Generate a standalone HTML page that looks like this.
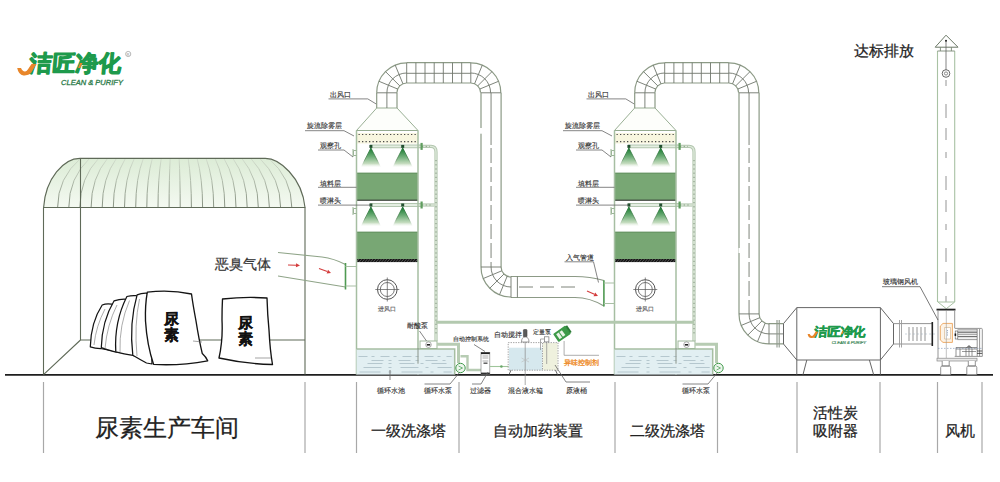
<!DOCTYPE html><html><head><meta charset="utf-8"><style>
html,body{margin:0;padding:0;background:#fff;width:1000px;height:482px;overflow:hidden}
svg{display:block}
text{font-family:"Liberation Sans",sans-serif}
</style></head><body>
<svg width="1000" height="482" viewBox="0 0 1000 482">
<defs>
<linearGradient id="roofg" x1="0" y1="0" x2="0" y2="1">
<stop offset="0" stop-color="#dcecd6"/><stop offset="1" stop-color="#f4f9f1"/></linearGradient>
<linearGradient id="cone" x1="0" y1="0" x2="0" y2="1">
<stop offset="0" stop-color="#13782c"/><stop offset="0.45" stop-color="#6fae78"/><stop offset="0.8" stop-color="#c5dcbf"/><stop offset="1" stop-color="#ffffff" stop-opacity="0.3"/></linearGradient>
<linearGradient id="conee" x1="0" y1="0" x2="0" y2="1">
<stop offset="0" stop-color="#106a26"/><stop offset="0.6" stop-color="#5d8a5e"/><stop offset="1" stop-color="#ffffff" stop-opacity="0"/></linearGradient>
<linearGradient id="ribg" gradientUnits="userSpaceOnUse" x1="0" y1="158" x2="0" y2="207">
<stop offset="0" stop-color="#d2dccd"/><stop offset="1" stop-color="#7b8675"/></linearGradient>
<clipPath id="roofclip"><path d="M43.6,207.5 C45.5,178 64,158.4 80,158.4 L265.3,158.4 C279,158.4 302,177 305,207.5 Z"/></clipPath>
<pattern id="hatch" width="2.8" height="4" patternUnits="userSpaceOnUse" patternTransform="skewX(-40)">
<rect width="2.8" height="4" fill="#555"/><rect width="1.9" height="4" fill="#151515"/></pattern>
</defs>

<g transform="translate(17,51) scale(1.0)">
<text x="13.8" y="19.8" font-size="22.5" font-weight="900" fill="#1e9a4c" stroke="#1e9a4c" stroke-width="1.3" stroke-linejoin="round" textLength="92" lengthAdjust="spacingAndGlyphs" transform="skewX(-5)">洁匠净化</text>
<path d="M14.5,13 L19.5,13 L14,22 Q11.5,24.8 6.5,24.4 Q1.5,23.8 0.2,17 L4,17 Q5.5,20.6 8.2,20.4 Q10,20.2 11,18.2 Z" fill="#e8862a"/>
<path d="M63,12 L65.5,12 L63.5,17 L61,17 Z" fill="#e8862a"/>
<text x="44" y="34.3" font-size="7.2" font-style="italic" fill="#2f7d4c" stroke="#2f7d4c" stroke-width="0.3" textLength="62" lengthAdjust="spacingAndGlyphs">CLEAN &amp; PURIFY</text>
</g>
<circle cx="128.2" cy="54" r="2.6" fill="none" stroke="#999" stroke-width="0.7"/><text x="126.8" y="55.6" font-size="3.6" fill="#888">R</text>
<line x1="5" y1="374.85" x2="993" y2="374.85" stroke="#1e1e1e" stroke-width="1.7"/>
<line x1="43.5" y1="382" x2="43.5" y2="453" stroke="#a8a8a8" stroke-width="1.2"/>
<line x1="305" y1="382" x2="305" y2="453" stroke="#a8a8a8" stroke-width="1.2"/>
<line x1="356.5" y1="382" x2="356.5" y2="453" stroke="#a8a8a8" stroke-width="1.2"/>
<line x1="459" y1="382" x2="459" y2="453" stroke="#a8a8a8" stroke-width="1.2"/>
<line x1="615" y1="382" x2="615" y2="453" stroke="#a8a8a8" stroke-width="1.2"/>
<line x1="717.5" y1="382" x2="717.5" y2="453" stroke="#a8a8a8" stroke-width="1.2"/>
<line x1="797" y1="382" x2="797" y2="453" stroke="#a8a8a8" stroke-width="1.2"/>
<line x1="880" y1="382" x2="880" y2="453" stroke="#a8a8a8" stroke-width="1.2"/>
<line x1="937.5" y1="382" x2="937.5" y2="453" stroke="#a8a8a8" stroke-width="1.2"/>
<line x1="982" y1="382" x2="982" y2="453" stroke="#a8a8a8" stroke-width="1.2"/>
<text x="95.3" y="435.6" font-size="24" fill="#222" text-anchor="start" stroke="#222" stroke-width="0.25">尿素生产车间</text>
<text x="371.2" y="436.2" font-size="14.6" fill="#222" text-anchor="start" stroke="#222" stroke-width="0.25">一级洗涤塔</text>
<text x="492.6" y="436.2" font-size="14.6" fill="#222" text-anchor="start" stroke="#222" stroke-width="0.25">自动加药装置</text>
<text x="629.8" y="436.2" font-size="14.6" fill="#222" text-anchor="start" stroke="#222" stroke-width="0.25">二级洗涤塔</text>
<text x="812.6" y="418.3" font-size="14.6" fill="#222" text-anchor="start" stroke="#222" stroke-width="0.25">活性炭</text>
<text x="812.6" y="436.2" font-size="14.6" fill="#222" text-anchor="start" stroke="#222" stroke-width="0.25">吸附器</text>
<text x="945" y="436.2" font-size="14.6" fill="#222" text-anchor="start" stroke="#222" stroke-width="0.25">风机</text>
<text x="853.6" y="56.4" font-size="14.7" fill="#222" text-anchor="start" stroke="#222" stroke-width="0.25">达标排放</text>
<text x="214.6" y="268.6" font-size="14.1" fill="#333" text-anchor="start" stroke="#333" stroke-width="0.2">恶臭气体</text>
<path d="M43.6,207.5 C45.5,178 64,158.4 80,158.4 L265.3,158.4 C279,158.4 302,177 305,207.5 Z" fill="url(#roofg)"/>
<g clip-path="url(#roofclip)">
<path d="M57.6,207.5 Q57.6,178 81.0,158" fill="none" stroke="url(#ribg)" stroke-width="0.9"/>
<path d="M68.8,207.5 Q68.8,178 89.9,158" fill="none" stroke="url(#ribg)" stroke-width="0.9"/>
<path d="M79.9,207.5 Q79.9,178 98.9,158" fill="none" stroke="url(#ribg)" stroke-width="0.9"/>
<path d="M91.1,207.5 Q91.1,178 107.8,158" fill="none" stroke="url(#ribg)" stroke-width="0.9"/>
<path d="M102.2,207.5 Q102.2,178 116.7,158" fill="none" stroke="url(#ribg)" stroke-width="0.9"/>
<path d="M113.3,207.5 Q113.3,178 125.6,158" fill="none" stroke="url(#ribg)" stroke-width="0.9"/>
<path d="M124.5,207.5 Q124.5,178 134.5,158" fill="none" stroke="url(#ribg)" stroke-width="0.9"/>
<path d="M135.7,207.5 Q135.7,178 143.5,158" fill="none" stroke="url(#ribg)" stroke-width="0.9"/>
<path d="M146.8,207.5 Q146.8,178 152.4,158" fill="none" stroke="url(#ribg)" stroke-width="0.9"/>
<path d="M158.0,207.5 Q158.0,178 161.3,158" fill="none" stroke="url(#ribg)" stroke-width="0.9"/>
<path d="M169.1,207.5 Q169.1,178 170.2,158" fill="none" stroke="url(#ribg)" stroke-width="0.9"/>
<path d="M180.2,207.5 Q180.2,178 179.1,158" fill="none" stroke="url(#ribg)" stroke-width="0.9"/>
<path d="M191.4,207.5 Q191.4,178 188.1,158" fill="none" stroke="url(#ribg)" stroke-width="0.9"/>
<path d="M202.6,207.5 Q202.6,178 197.0,158" fill="none" stroke="url(#ribg)" stroke-width="0.9"/>
<path d="M213.7,207.5 Q213.7,178 205.9,158" fill="none" stroke="url(#ribg)" stroke-width="0.9"/>
<path d="M224.8,207.5 Q224.8,178 214.8,158" fill="none" stroke="url(#ribg)" stroke-width="0.9"/>
<path d="M236.0,207.5 Q236.0,178 223.7,158" fill="none" stroke="url(#ribg)" stroke-width="0.9"/>
<path d="M247.2,207.5 Q247.2,178 232.7,158" fill="none" stroke="url(#ribg)" stroke-width="0.9"/>
<path d="M258.3,207.5 Q258.3,178 241.6,158" fill="none" stroke="url(#ribg)" stroke-width="0.9"/>
<path d="M269.4,207.5 Q269.4,178 250.5,158" fill="none" stroke="url(#ribg)" stroke-width="0.9"/>
<path d="M280.6,207.5 Q280.6,178 259.4,158" fill="none" stroke="url(#ribg)" stroke-width="0.9"/>
<path d="M291.8,207.5 Q291.8,178 268.3,158" fill="none" stroke="url(#ribg)" stroke-width="0.9"/>
</g>
<path d="M43.6,207.5 C45.5,178 64,158.4 80,158.4 L265.3,158.4 C279,158.4 302,177 305,207.5 Z" fill="none" stroke="#5f6a58" stroke-width="1.15"/>
<path d="M43.5,207.5 V374.6 M305,207.5 V374.6 M43.5,207.5 H305 M80.5,158.4 V340 H305 M43.5,374.6 L80.5,340" fill="none" stroke="#5f6a58" stroke-width="1.1"/>
<path d="M102.2,305 Q106,303.5 111.6,304.2 Q114,304 116,306 L118,352 L100.5,348.5 Q95,348.5 90.3,346.8 Q91,322 102.2,305 Z" fill="#fff" stroke="#141414" stroke-width="1.25" stroke-linejoin="round" stroke-linecap="round"/>
<path d="M114.1,300.8 Q119,299 124.3,299 Q127,299 129,301 L131,354 L115,351.9 Q108,350 101.3,347.6 Q102,321 114.1,300.8 Z" fill="#fff" stroke="#141414" stroke-width="1.25" stroke-linejoin="round" stroke-linecap="round"/>
<path d="M126.9,296.5 Q131,295.5 135.4,295.7 Q138,295.5 140,298 L142,358 L132.8,355.3 Q124,354 115.8,351.9 Q114,322 126.9,296.5 Z" fill="#fff" stroke="#141414" stroke-width="1.25" stroke-linejoin="round" stroke-linecap="round"/>
<path d="M137.1,294.8 Q141,293.3 145.6,293.1 Q148,293 150,295 L152,364 L146.5,363 Q139,359 132.8,355.3 Q129,323 137.1,294.8 Z" fill="#fff" stroke="#141414" stroke-width="1.25" stroke-linejoin="round" stroke-linecap="round"/>
<path d="M105,309 Q96,326 94,345 M117,305 Q107,325 105,348.5 M129.5,300.5 Q119,325 120,352 M139.5,299 Q134,325 137,356" fill="none" stroke="#888" stroke-width="0.7"/>
<path d="M147.3,292.2 Q170,289.5 191.5,294 Q193,305 196,321 Q199,340 202.3,353.6 Q206,357 207.7,360.8 Q180,366 153.6,364.4 Q147,345 145.5,321 Q145,305 147.3,292.2 Z" fill="#fff" stroke="#141414" stroke-width="1.35" stroke-linejoin="round" stroke-linecap="round"/>
<path d="M222.5,299 Q245,296.5 267,298 Q267.5,315 269,330 Q270,350 272.5,364.5 Q246,364 219,358 Q223,340 222,320 Q222,308 222.5,299 Z" fill="#fff" stroke="#141414" stroke-width="1.35" stroke-linejoin="round" stroke-linecap="round"/>
<path d="M193,341 L202,342 M255,358 L271,358" fill="none" stroke="#666" stroke-width="0.6"/>
<text x="171.5" y="324.2" font-size="14.5" fill="#111" text-anchor="middle" font-weight="bold" stroke="#111" stroke-width="0.25">尿</text>
<text x="171.5" y="339.8" font-size="14.5" fill="#111" text-anchor="middle" font-weight="bold" stroke="#111" stroke-width="0.25">素</text>
<text x="245.5" y="328.2" font-size="14.5" fill="#111" text-anchor="middle" font-weight="bold" stroke="#111" stroke-width="0.25">尿</text>
<text x="245.5" y="344.2" font-size="14.5" fill="#111" text-anchor="middle" font-weight="bold" stroke="#111" stroke-width="0.25">素</text>
<path d="M278,252.5 L322,257 Q334,258.5 345.5,264.5 M278,276 L345.5,287" fill="none" stroke="#8fa488" stroke-width="1.1"/>
<line x1="345.5" y1="263" x2="345.5" y2="289.5" stroke="#4f9a52" stroke-width="1.6"/>
<path d="M345.5,266.5 H356.5 M345.5,286 H356.5" stroke="#a9bfa5" stroke-width="1"/>
<line x1="288" y1="265" x2="296.0" y2="265.3" stroke="#d43c3c" stroke-width="1.1"/>
<path d="M300,265.5 L295.9,267.3 L296.1,263.3 Z" fill="#d43c3c"/>
<line x1="319" y1="268.5" x2="327.3" y2="271.6" stroke="#d43c3c" stroke-width="1.1"/>
<path d="M331,273 L326.6,273.5 L328.0,269.7 Z" fill="#d43c3c"/>
<path d="M356.5,130.5 L376.7,108 L397.0,108 L418.0,130.5 Z" fill="#fdfefb" stroke="#93ab8e" stroke-width="0.95"/>
<rect x="356.5" y="133" width="61.5" height="10.5" fill="#f8f6df"/>
<line x1="358.5" y1="134.5" x2="417.0" y2="134.5" stroke="#4a4a4a" stroke-width="1.2" stroke-dasharray="1.3,2.2"/>
<line x1="358.5" y1="141.7" x2="417.0" y2="141.7" stroke="#4a4a4a" stroke-width="1.2" stroke-dasharray="1.3,2.2"/>
<line x1="356.5" y1="130.5" x2="418.0" y2="130.5" stroke="#93ab8e" stroke-width="0.95"/>
<rect x="370.5" y="145.0" width="50.5" height="2.8" fill="#e4eee2" stroke="#a3bb9f" stroke-width="0.8"/>
<path d="M370.9,148 L360.9,167.5 L380.9,167.5 Z" fill="url(#cone)"/>
<path d="M360.9,167.5 L370.9,148 L380.9,167.5" fill="none" stroke="url(#conee)" stroke-width="0.8"/>
<rect x="369.4" y="144.9" width="3" height="3" fill="#234f30"/>
<path d="M402.7,148 L392.7,167.5 L412.7,167.5 Z" fill="url(#cone)"/>
<path d="M392.7,167.5 L402.7,148 L412.7,167.5" fill="none" stroke="url(#conee)" stroke-width="0.8"/>
<rect x="401.2" y="144.9" width="3" height="3" fill="#234f30"/>
<rect x="370.5" y="203.6" width="50.5" height="2.8" fill="#e4eee2" stroke="#a3bb9f" stroke-width="0.8"/>
<path d="M370.9,207 L360.9,226.5 L380.9,226.5 Z" fill="url(#cone)"/>
<path d="M360.9,226.5 L370.9,207 L380.9,226.5" fill="none" stroke="url(#conee)" stroke-width="0.8"/>
<rect x="369.4" y="203.5" width="3" height="3" fill="#234f30"/>
<path d="M402.7,207 L392.7,226.5 L412.7,226.5 Z" fill="url(#cone)"/>
<path d="M392.7,226.5 L402.7,207 L412.7,226.5" fill="none" stroke="url(#conee)" stroke-width="0.8"/>
<rect x="401.2" y="203.5" width="3" height="3" fill="#234f30"/>
<rect x="356.5" y="172.8" width="61.5" height="27.69999999999999" fill="#78a774"/>
<line x1="356.5" y1="173.20000000000002" x2="418.0" y2="173.20000000000002" stroke="#5e8a5a" stroke-width="0.8"/>
<rect x="356.5" y="231.8" width="61.5" height="27.599999999999966" fill="#78a774"/>
<line x1="356.5" y1="232.20000000000002" x2="418.0" y2="232.20000000000002" stroke="#5e8a5a" stroke-width="0.8"/>
<line x1="356.5" y1="200.2" x2="418.0" y2="200.2" stroke="#2b2b2b" stroke-width="1"/>
<rect x="356.5" y="259" width="61.5" height="3.1" fill="url(#hatch)"/>
<path d="M356.5,130.5 V374.6 M418.0,130.5 V374.6" stroke="#a6bea2" stroke-width="1.5" fill="none"/>
<path d="M356.5,150.5 H353.5 V155.5 H356.5 M353.0,149 V157" stroke="#9bb497" stroke-width="1" fill="none"/>
<path d="M356.5,208.5 H353.5 V213.5 H356.5 M353.0,207 V215" stroke="#9bb497" stroke-width="1" fill="none"/>
<circle cx="387.3" cy="289.5" r="9.8" fill="none" stroke="#555" stroke-width="1"/>
<circle cx="387.3" cy="289.5" r="7" fill="none" stroke="#555" stroke-width="0.8"/>
<path d="M375.3,289.5 H399.3 M387.3,277.5 V301.5" stroke="#555" stroke-width="0.7"/>
<text x="387.3" y="310.8" font-size="6.2" fill="#555" stroke="#555" stroke-width="0.12" text-anchor="middle">进风口</text>
<path d="M419.0,146.4 H431.0 Q436.0,146.4 436.0,152 V341" fill="none" stroke="#b3c7af" stroke-width="3.2"/>
<path d="M419.0,146.4 H431.0 Q436.0,146.4 436.0,152 V341" fill="none" stroke="#dde8da" stroke-width="1.4"/>
<path d="M419.0,205 H434.4" fill="none" stroke="#b3c7af" stroke-width="3.2"/>
<path d="M419.0,205 H434.4" fill="none" stroke="#dde8da" stroke-width="1.4"/>
<path d="M436.0,160 V335" fill="none" stroke="#7d907a" stroke-width="1" stroke-dasharray="1.2,3"/>
<path d="M422.0,146.4 H430.0 M422.0,205 H433.0" fill="none" stroke="#6d8a68" stroke-width="0.8" stroke-dasharray="1.2,2.5"/>
<rect x="420.5" y="142.9" width="2.2" height="7" fill="#5f9d5e"/>
<rect x="420.5" y="201.5" width="2.2" height="7" fill="#5f9d5e"/>
<rect x="356.5" y="349" width="98.19999999999999" height="25.6" fill="#e2eff2"/>
<line x1="358.5" y1="356.5" x2="451.7" y2="356.5" stroke="#a9bcc4" stroke-width="0.8" stroke-dasharray="9,4,3,6"/>
<line x1="371.5" y1="360.5" x2="451.7" y2="360.5" stroke="#a9bcc4" stroke-width="0.8" stroke-dasharray="12,5,3,7"/>
<line x1="367.5" y1="363.5" x2="451.7" y2="363.5" stroke="#a9bcc4" stroke-width="0.8" stroke-dasharray="15,6,3,8"/>
<line x1="363.5" y1="367.5" x2="451.7" y2="367.5" stroke="#a9bcc4" stroke-width="0.8" stroke-dasharray="18,7,3,9"/>
<line x1="359.5" y1="372" x2="451.7" y2="372" stroke="#a9bcc4" stroke-width="0.8" stroke-dasharray="21,8,3,10"/>
<path d="M356.5,349 H454.7 V374.6" fill="none" stroke="#a6bea2" stroke-width="1.5"/>
<rect x="420.0" y="341" width="17" height="7.5" fill="#fff" stroke="#9fb89b" stroke-width="1"/>
<circle cx="428.5" cy="344.7" r="2.8" fill="#fff" stroke="#777" stroke-width="0.6"/><rect x="426.8" y="344" width="3.4" height="1.6" fill="#222"/>
<line x1="418.0" y1="348" x2="418.0" y2="363.7" stroke="#8a948a" stroke-width="1"/>
<path d="M437.0,344.3 H458.5 V363" fill="none" stroke="#b7ccb3" stroke-width="3"/>
<circle cx="460.5" cy="368" r="4.7" fill="#eef6ee" stroke="#3f9a4a" stroke-width="1"/>
<path d="M458.5,366 L462.5,368 L458.5,370" fill="none" stroke="#3f9a4a" stroke-width="0.7"/>
<text x="329.8" y="97" font-size="6.6" fill="#2e2e2e" stroke="#2e2e2e" stroke-width="0.12" text-anchor="start">出风口</text>
<path d="M328.5,98.9 H367.8 L376.7,104.3" fill="none" stroke="#666" stroke-width="0.8"/>
<text x="306.8" y="128.4" font-size="6.6" fill="#2e2e2e" stroke="#2e2e2e" stroke-width="0.12" text-anchor="start">旋流除雾层</text>
<path d="M305.0,130.7 H344.0 L354.0,136" fill="none" stroke="#666" stroke-width="0.8"/>
<text x="319.9" y="148.2" font-size="6.6" fill="#2e2e2e" stroke="#2e2e2e" stroke-width="0.12" text-anchor="start">观察孔</text>
<path d="M318.0,150 H344.0 L353.0,157" fill="none" stroke="#666" stroke-width="0.8"/>
<text x="319.9" y="186" font-size="6.6" fill="#2e2e2e" stroke="#2e2e2e" stroke-width="0.12" text-anchor="start">填料层</text>
<line x1="318.0" y1="187.3" x2="356.5" y2="187.3" stroke="#666" stroke-width="0.8"/>
<text x="319.9" y="203.2" font-size="6.6" fill="#2e2e2e" stroke="#2e2e2e" stroke-width="0.12" text-anchor="start">喷淋头</text>
<line x1="318.0" y1="205.1" x2="370.5" y2="205.1" stroke="#666" stroke-width="0.8"/>
<line x1="390.0" y1="370" x2="390.0" y2="380" stroke="#666" stroke-width="0.8"/>
<text x="391.0" y="393" font-size="6.6" fill="#2e2e2e" stroke="#2e2e2e" stroke-width="0.12" text-anchor="middle">循环水池</text>
<path d="M424.5,384 H450.0 L459.5,372.5" fill="none" stroke="#666" stroke-width="0.8"/>
<text x="437.5" y="393" font-size="6.6" fill="#2e2e2e" stroke="#2e2e2e" stroke-width="0.12" text-anchor="middle">循环水泵</text>
<text x="406.5" y="327.6" font-size="6.6" fill="#2e2e2e" stroke="#2e2e2e" stroke-width="0.12" text-anchor="start">耐酸泵</text>
<line x1="419.5" y1="331" x2="426.5" y2="341" stroke="#666" stroke-width="0.8"/>
<path d="M614.5,130.5 L634.7,108 L655.0,108 L676.0,130.5 Z" fill="#fdfefb" stroke="#93ab8e" stroke-width="0.95"/>
<rect x="614.5" y="133" width="61.5" height="10.5" fill="#f8f6df"/>
<line x1="616.5" y1="134.5" x2="675.0" y2="134.5" stroke="#4a4a4a" stroke-width="1.2" stroke-dasharray="1.3,2.2"/>
<line x1="616.5" y1="141.7" x2="675.0" y2="141.7" stroke="#4a4a4a" stroke-width="1.2" stroke-dasharray="1.3,2.2"/>
<line x1="614.5" y1="130.5" x2="676.0" y2="130.5" stroke="#93ab8e" stroke-width="0.95"/>
<rect x="628.5" y="145.0" width="50.5" height="2.8" fill="#e4eee2" stroke="#a3bb9f" stroke-width="0.8"/>
<path d="M628.9,148 L618.9,167.5 L638.9,167.5 Z" fill="url(#cone)"/>
<path d="M618.9,167.5 L628.9,148 L638.9,167.5" fill="none" stroke="url(#conee)" stroke-width="0.8"/>
<rect x="627.4" y="144.9" width="3" height="3" fill="#234f30"/>
<path d="M660.7,148 L650.7,167.5 L670.7,167.5 Z" fill="url(#cone)"/>
<path d="M650.7,167.5 L660.7,148 L670.7,167.5" fill="none" stroke="url(#conee)" stroke-width="0.8"/>
<rect x="659.2" y="144.9" width="3" height="3" fill="#234f30"/>
<rect x="628.5" y="203.6" width="50.5" height="2.8" fill="#e4eee2" stroke="#a3bb9f" stroke-width="0.8"/>
<path d="M628.9,207 L618.9,226.5 L638.9,226.5 Z" fill="url(#cone)"/>
<path d="M618.9,226.5 L628.9,207 L638.9,226.5" fill="none" stroke="url(#conee)" stroke-width="0.8"/>
<rect x="627.4" y="203.5" width="3" height="3" fill="#234f30"/>
<path d="M660.7,207 L650.7,226.5 L670.7,226.5 Z" fill="url(#cone)"/>
<path d="M650.7,226.5 L660.7,207 L670.7,226.5" fill="none" stroke="url(#conee)" stroke-width="0.8"/>
<rect x="659.2" y="203.5" width="3" height="3" fill="#234f30"/>
<rect x="614.5" y="172.8" width="61.5" height="27.69999999999999" fill="#78a774"/>
<line x1="614.5" y1="173.20000000000002" x2="676.0" y2="173.20000000000002" stroke="#5e8a5a" stroke-width="0.8"/>
<rect x="614.5" y="231.8" width="61.5" height="27.599999999999966" fill="#78a774"/>
<line x1="614.5" y1="232.20000000000002" x2="676.0" y2="232.20000000000002" stroke="#5e8a5a" stroke-width="0.8"/>
<line x1="614.5" y1="200.2" x2="676.0" y2="200.2" stroke="#2b2b2b" stroke-width="1"/>
<rect x="614.5" y="259" width="61.5" height="3.1" fill="url(#hatch)"/>
<path d="M614.5,130.5 V374.6 M676.0,130.5 V374.6" stroke="#a6bea2" stroke-width="1.5" fill="none"/>
<path d="M614.5,150.5 H611.5 V155.5 H614.5 M611.0,149 V157" stroke="#9bb497" stroke-width="1" fill="none"/>
<path d="M614.5,208.5 H611.5 V213.5 H614.5 M611.0,207 V215" stroke="#9bb497" stroke-width="1" fill="none"/>
<circle cx="645.3" cy="289.5" r="9.8" fill="none" stroke="#555" stroke-width="1"/>
<circle cx="645.3" cy="289.5" r="7" fill="none" stroke="#555" stroke-width="0.8"/>
<path d="M633.3,289.5 H657.3 M645.3,277.5 V301.5" stroke="#555" stroke-width="0.7"/>
<text x="645.3" y="310.8" font-size="6.2" fill="#555" stroke="#555" stroke-width="0.12" text-anchor="middle">进风口</text>
<path d="M677.0,146.4 H689.0 Q694.0,146.4 694.0,152 V341" fill="none" stroke="#b3c7af" stroke-width="3.2"/>
<path d="M677.0,146.4 H689.0 Q694.0,146.4 694.0,152 V341" fill="none" stroke="#dde8da" stroke-width="1.4"/>
<path d="M677.0,205 H692.4" fill="none" stroke="#b3c7af" stroke-width="3.2"/>
<path d="M677.0,205 H692.4" fill="none" stroke="#dde8da" stroke-width="1.4"/>
<path d="M694.0,160 V335" fill="none" stroke="#7d907a" stroke-width="1" stroke-dasharray="1.2,3"/>
<path d="M680.0,146.4 H688.0 M680.0,205 H691.0" fill="none" stroke="#6d8a68" stroke-width="0.8" stroke-dasharray="1.2,2.5"/>
<rect x="678.5" y="142.9" width="2.2" height="7" fill="#5f9d5e"/>
<rect x="678.5" y="201.5" width="2.2" height="7" fill="#5f9d5e"/>
<rect x="614.5" y="349" width="98.20000000000005" height="25.6" fill="#e2eff2"/>
<line x1="616.5" y1="356.5" x2="709.7" y2="356.5" stroke="#a9bcc4" stroke-width="0.8" stroke-dasharray="9,4,3,6"/>
<line x1="629.5" y1="360.5" x2="709.7" y2="360.5" stroke="#a9bcc4" stroke-width="0.8" stroke-dasharray="12,5,3,7"/>
<line x1="625.5" y1="363.5" x2="709.7" y2="363.5" stroke="#a9bcc4" stroke-width="0.8" stroke-dasharray="15,6,3,8"/>
<line x1="621.5" y1="367.5" x2="709.7" y2="367.5" stroke="#a9bcc4" stroke-width="0.8" stroke-dasharray="18,7,3,9"/>
<line x1="617.5" y1="372" x2="709.7" y2="372" stroke="#a9bcc4" stroke-width="0.8" stroke-dasharray="21,8,3,10"/>
<path d="M614.5,349 H712.7 V374.6" fill="none" stroke="#a6bea2" stroke-width="1.5"/>
<rect x="678.0" y="341" width="17" height="7.5" fill="#fff" stroke="#9fb89b" stroke-width="1"/>
<circle cx="686.5" cy="344.7" r="2.8" fill="#fff" stroke="#777" stroke-width="0.6"/><rect x="684.8" y="344" width="3.4" height="1.6" fill="#222"/>
<line x1="676.0" y1="348" x2="676.0" y2="363.7" stroke="#8a948a" stroke-width="1"/>
<path d="M695.0,344.3 H716.5 V363" fill="none" stroke="#b7ccb3" stroke-width="3"/>
<circle cx="718.5" cy="368" r="4.7" fill="#eef6ee" stroke="#3f9a4a" stroke-width="1"/>
<path d="M716.5,366 L720.5,368 L716.5,370" fill="none" stroke="#3f9a4a" stroke-width="0.7"/>
<text x="587.8" y="97" font-size="6.6" fill="#2e2e2e" stroke="#2e2e2e" stroke-width="0.12" text-anchor="start">出风口</text>
<path d="M586.5,98.9 H625.8 L634.7,104.3" fill="none" stroke="#666" stroke-width="0.8"/>
<text x="564.8" y="128.4" font-size="6.6" fill="#2e2e2e" stroke="#2e2e2e" stroke-width="0.12" text-anchor="start">旋流除雾层</text>
<path d="M563.0,130.7 H602.0 L612.0,136" fill="none" stroke="#666" stroke-width="0.8"/>
<text x="577.9" y="148.2" font-size="6.6" fill="#2e2e2e" stroke="#2e2e2e" stroke-width="0.12" text-anchor="start">观察孔</text>
<path d="M576.0,150 H602.0 L611.0,157" fill="none" stroke="#666" stroke-width="0.8"/>
<text x="577.9" y="186" font-size="6.6" fill="#2e2e2e" stroke="#2e2e2e" stroke-width="0.12" text-anchor="start">填料层</text>
<line x1="576.0" y1="187.3" x2="614.5" y2="187.3" stroke="#666" stroke-width="0.8"/>
<text x="577.9" y="203.2" font-size="6.6" fill="#2e2e2e" stroke="#2e2e2e" stroke-width="0.12" text-anchor="start">喷淋头</text>
<line x1="576.0" y1="205.1" x2="628.5" y2="205.1" stroke="#666" stroke-width="0.8"/>
<path d="M682.5,384 H708.0 L717.5,372.5" fill="none" stroke="#666" stroke-width="0.8"/>
<text x="695.5" y="393" font-size="6.6" fill="#2e2e2e" stroke="#2e2e2e" stroke-width="0.12" text-anchor="middle">循环水泵</text>
<path d="M376.7,108 V92.8 M397.0,108 V92.8" stroke="#8c9a86" stroke-width="1.2" fill="none"/>
<path d="M386.9,108 V92.8 M376.7,92.8 H397.0" stroke="#6f766c" stroke-width="0.9" fill="none"/>
<path d="M396.9,92.8 A9.8,9.8 0 0 1 406.7,83.0 M376.7,92.8 A30,30 0 0 1 406.7,62.8" fill="none" stroke="#8c9a86" stroke-width="1.2"/>
<path d="M386.9,92.8 A19.8,19.8 0 0 1 406.7,73.0 M397.6,89.0 L379.0,81.3 M399.8,85.9 L385.5,71.6 M402.9,83.7 L395.2,65.1" fill="none" stroke="#6f766c" stroke-width="0.9"/>
<path d="M406.7,62.7 H470.79999999999995 M406.7,83 H470.79999999999995" stroke="#8c9a86" stroke-width="1.2" fill="none"/>
<path d="M406.7,73.3 H470.79999999999995 M406.7,62.7 V83 M415.9,62.7 V83 M425.0,62.7 V83 M434.2,62.7 V83 M443.3,62.7 V83 M452.5,62.7 V83 M461.7,62.7 V83 M470.8,62.7 V83" stroke="#6f766c" stroke-width="0.9" fill="none"/>
<path d="M470.79999999999995,83.0 A9.8,9.8 0 0 1 480.59999999999997,92.8 M470.79999999999995,62.8 A30,30 0 0 1 500.79999999999995,92.8" fill="none" stroke="#8c9a86" stroke-width="1.2"/>
<path d="M470.79999999999995,73.0 A19.8,19.8 0 0 1 490.59999999999997,92.8 M479.9,89.0 L498.5,81.3 M477.7,85.9 L492.0,71.6 M474.6,83.7 L482.3,65.1" fill="none" stroke="#6f766c" stroke-width="0.9"/>
<path d="M480.99999999999994,92.8 H501.09999999999997" stroke="#6f766c" stroke-width="0.9"/>
<path d="M480.99999999999994,92.8 V267 M501.09999999999997,92.8 V267" stroke="#8c9a86" stroke-width="1.2" fill="none"/>
<path d="M491.04999999999995,92.8 V145" stroke="#6f766c" stroke-width="0.9" fill="none"/>
<path d="M491.04999999999995,148 V267" stroke="#6f766c" stroke-width="0.9" fill="none" stroke-dasharray="15,4"/>
<path d="M480.99999999999994,267 A30,30 0 0 0 510.99999999999994,297 M501.09999999999997,267 A10,10 0 0 0 510.99999999999994,277" fill="none" stroke="#8c9a86" stroke-width="1.2"/>
<path d="M491.04999999999995,267 A20,20 0 0 0 510.99999999999994,287 M480.99999999999994,267 H501.09999999999997 M501.8,270.8 L483.3,278.5 M503.9,274.1 L489.8,288.2 M507.2,276.2 L499.5,294.7" fill="none" stroke="#6f766c" stroke-width="0.9"/>
<path d="M510.99999999999994,276.5 H575 Q590,276.5 603.9,280.5 M510.99999999999994,297.5 H575 Q590,297.5 603.9,306.0" fill="none" stroke="#8c9a86" stroke-width="1.2"/>
<path d="M510.99999999999994,276.5 V297.5 M517.4,276.5 V297.5" stroke="#6f766c" stroke-width="0.9"/>
<path d="M519.0,287 H577" stroke="#6f766c" stroke-width="0.9" stroke-dasharray="14,7"/>
<line x1="603.9" y1="280.3" x2="603.9" y2="306.5" stroke="#4f9a52" stroke-width="1.6"/>
<path d="M603.9,283 H614.5 M603.9,303.5 H614.5" stroke="#a9bfa5" stroke-width="1"/>
<line x1="587" y1="291" x2="594.4" y2="294.3" stroke="#d43c3c" stroke-width="1.1"/>
<path d="M598,296 L593.5,296.2 L595.2,292.5 Z" fill="#d43c3c"/>
<text x="566" y="260.2" font-size="6.6" fill="#2e2e2e" stroke="#2e2e2e" stroke-width="0.12" text-anchor="start">入气管道</text>
<path d="M564.5,261.8 H593.5 L598.5,282.5" fill="none" stroke="#666" stroke-width="0.8"/>
<rect x="480" y="128" width="3" height="5.7" fill="#fff"/>
<path d="M634.7,108 V92.8 M655.0,108 V92.8" stroke="#8c9a86" stroke-width="1.2" fill="none"/>
<path d="M644.9000000000001,108 V92.8 M634.7,92.8 H655.0" stroke="#6f766c" stroke-width="0.9" fill="none"/>
<path d="M654.9000000000001,92.8 A9.8,9.8 0 0 1 664.7,83.0 M634.7,92.8 A30,30 0 0 1 664.7,62.8" fill="none" stroke="#8c9a86" stroke-width="1.2"/>
<path d="M644.9000000000001,92.8 A19.8,19.8 0 0 1 664.7,73.0 M655.6,89.0 L637.0,81.3 M657.8,85.9 L643.5,71.6 M660.9,83.7 L653.2,65.1" fill="none" stroke="#6f766c" stroke-width="0.9"/>
<path d="M664.7,62.7 H728.8000000000001 M664.7,83 H728.8000000000001" stroke="#8c9a86" stroke-width="1.2" fill="none"/>
<path d="M664.7,73.3 H728.8000000000001 M664.7,62.7 V83 M673.9,62.7 V83 M683.0,62.7 V83 M692.2,62.7 V83 M701.3,62.7 V83 M710.5,62.7 V83 M719.7,62.7 V83 M728.8,62.7 V83" stroke="#6f766c" stroke-width="0.9" fill="none"/>
<path d="M728.8000000000001,83.0 A9.8,9.8 0 0 1 738.6,92.8 M728.8000000000001,62.8 A30,30 0 0 1 758.8000000000001,92.8" fill="none" stroke="#8c9a86" stroke-width="1.2"/>
<path d="M728.8000000000001,73.0 A19.8,19.8 0 0 1 748.6,92.8 M737.9,89.0 L756.5,81.3 M735.7,85.9 L750.0,71.6 M732.6,83.7 L740.3,65.1" fill="none" stroke="#6f766c" stroke-width="0.9"/>
<path d="M739.0000000000001,92.8 H759.1" stroke="#6f766c" stroke-width="0.9"/>
<path d="M739.0000000000001,92.8 V313.9 M759.1,92.8 V313.9" stroke="#8c9a86" stroke-width="1.2" fill="none"/>
<path d="M749.0500000000001,92.8 V145" stroke="#6f766c" stroke-width="0.9" fill="none"/>
<path d="M749.0500000000001,148 V313.9" stroke="#6f766c" stroke-width="0.9" fill="none" stroke-dasharray="15,4"/>
<path d="M739.0000000000001,313.9 A30,30 0 0 0 769.0000000000001,343.9 M759.1,313.9 A10,10 0 0 0 769.0000000000001,323.9" fill="none" stroke="#8c9a86" stroke-width="1.2"/>
<path d="M749.0500000000001,313.9 A20,20 0 0 0 769.0000000000001,333.9 M739.0000000000001,313.9 H759.1 M759.8,317.7 L741.3,325.4 M761.9,321.0 L747.8,335.1 M765.2,323.1 L757.5,341.6" fill="none" stroke="#6f766c" stroke-width="0.9"/>
<rect x="738.5" y="248" width="3" height="5" fill="#fff"/>
<path d="M769.0000000000001,323.59999999999997 H783.5 M769.0000000000001,343.79999999999995 H783.5" fill="none" stroke="#8c9a86" stroke-width="1.2"/>
<path d="M769.0000000000001,323.59999999999997 V343.79999999999995 M769.0000000000001,333.9 H783.5" stroke="#6f766c" stroke-width="0.9"/>
<path d="M777,320 V347.5 M779.2,320 V347.5" stroke="#8d978a" stroke-width="1.1"/>
<path d="M783.5,323.59999999999997 V343.79999999999995" stroke="#8c9a86" stroke-width="1"/>
<path d="M436,322.2 H694" stroke="#b3c9af" stroke-width="3" fill="none"/>
<path d="M460.5,356.3 H467.5 V370 H481" fill="none" stroke="#b7ccb3" stroke-width="2.4"/>
<rect x="481" y="352.6" width="8.8" height="21.5" fill="#fff" stroke="#888" stroke-width="0.7"/>
<rect x="481" y="352.3" width="8.8" height="1.8" fill="#222"/>
<path d="M482.5,356 H488.3 M482.5,358 H488.3 M482.5,361 H488.3" stroke="#777" stroke-width="0.6"/>
<rect x="483.5" y="362.5" width="4" height="1.4" fill="#555"/>
<rect x="481" y="372.6" width="8.8" height="1.6" fill="#333"/>
<path d="M489.8,366.5 H508.5" stroke="#9fc59b" stroke-width="1.1"/>
<circle cx="501.4" cy="366.5" r="1.3" fill="#6aa86a"/>
<rect x="509" y="347.7" width="33.3" height="22.5" fill="#d6e8ee"/>
<rect x="542.8" y="343" width="14.7" height="27.2" fill="#eff1de"/>
<path d="M508.2,370.2 V342.6 H558 V370.2 H508.2 M542.5,343 V370" fill="none" stroke="#888" stroke-width="0.8" stroke-dasharray="1.3,1.2"/>
<path d="M511,370.2 L509,374.6 M555.5,370.2 L557.5,374.6" stroke="#555" stroke-width="0.9"/>
<rect x="523.4" y="329.5" width="3.6" height="7.5" rx="0.8" fill="#5a5a5a" stroke="#444" stroke-width="0.6"/>
<path d="M521.5,342 Q521.5,337 525.2,337 Q529,337 529,342 Z" fill="#fff" stroke="#777" stroke-width="0.7"/>
<path d="M525.2,342 V385" stroke="#888" stroke-width="0.7"/>
<path d="M521.5,358 L529,362 M529,358 L521.5,362" stroke="#bbb" stroke-width="0.6"/>
<rect x="544.5" y="336.8" width="4.4" height="5.1" fill="#fff" stroke="#777" stroke-width="0.7"/>
<path d="M544.5,339 H540.5 V350 M546.7,342 V364" fill="none" stroke="#888" stroke-width="0.7"/>
<g transform="translate(562,333.8) rotate(-35)"><rect x="-7.5" y="-5" width="15" height="10" rx="1" fill="#3c9a48"/><rect x="-5" y="-3" width="3" height="6" fill="#e8f4e6"/><rect x="-1" y="-3" width="3" height="6" fill="#e8f4e6"/><rect x="7" y="-4" width="2" height="8" fill="#2b7a36"/></g>
<path d="M564.1,341 V355.3 H599" fill="none" stroke="#999" stroke-width="0.8"/>
<text x="564" y="364.5" font-size="6.9" fill="#ee8a26" stroke="#ee8a26" stroke-width="0.3">异味控制剂</text>
<text x="453" y="340.6" font-size="6.0" fill="#2e2e2e" stroke="#2e2e2e" stroke-width="0.12" text-anchor="start">自动控制系统</text>
<line x1="474" y1="344.5" x2="485" y2="351.5" stroke="#666" stroke-width="0.8"/>
<text x="493.6" y="337.4" font-size="6.5" fill="#2e2e2e" stroke="#2e2e2e" stroke-width="0.12" text-anchor="start">自动搅拌</text>
<text x="533" y="334" font-size="5.8" fill="#2e2e2e" stroke="#2e2e2e" stroke-width="0.12" text-anchor="start">定量泵</text>
<path d="M472,384 H481 L488,372" fill="none" stroke="#666" stroke-width="0.8"/>
<text x="480" y="393" font-size="6.6" fill="#2e2e2e" stroke="#2e2e2e" stroke-width="0.12" text-anchor="middle">过滤器</text>
<text x="525" y="393" font-size="6.6" fill="#2e2e2e" stroke="#2e2e2e" stroke-width="0.12" text-anchor="middle">混合液水箱</text>
<path d="M555,365 L566,382 H590" fill="none" stroke="#666" stroke-width="0.8"/>
<text x="576" y="393" font-size="6.6" fill="#2e2e2e" stroke="#2e2e2e" stroke-width="0.12" text-anchor="middle">原液桶</text>
<path d="M783.5,323.6 L796.8,307.6 H880.4 L893.5,323.6 V344 L880.4,360 H796.8 L783.5,344 Z" fill="#fff" stroke="#666" stroke-width="1"/>
<path d="M796.8,307.6 V374.6 M880.4,307.6 V374.6 M806.8,360 L803,374.6 M869.4,360 L873.6,374.6" fill="none" stroke="#666" stroke-width="1"/>
<g transform="translate(807.5,324.6) scale(0.553)">
<text x="13.8" y="19.8" font-size="22.5" font-weight="900" fill="#1e9a4c" stroke="#1e9a4c" stroke-width="0.9" stroke-linejoin="round" textLength="92" lengthAdjust="spacingAndGlyphs" transform="skewX(-5)">洁匠净化</text>
<path d="M14.5,13 L19.5,13 L14,22 Q11.5,24.8 6.5,24.4 Q1.5,23.8 0.2,17 L4,17 Q5.5,20.6 8.2,20.4 Q10,20.2 11,18.2 Z" fill="#e8862a"/>
<path d="M63,12 L65.5,12 L63.5,17 L61,17 Z" fill="#e8862a"/>
<text x="44" y="34.3" font-size="7.2" font-style="italic" fill="#2f7d4c" stroke="#2f7d4c" stroke-width="0.3" textLength="62" lengthAdjust="spacingAndGlyphs">CLEAN &amp; PURIFY</text>
</g>
<path d="M937.5,51 V302 M954.7,51 V302" stroke="#a9c2a4" stroke-width="1.1" fill="none"/>
<path d="M946,35.2 L935.2,47.2 H958 Z" fill="#fff" stroke="#6b7866" stroke-width="1"/>
<path d="M940.4,47.2 V51 M951.4,47.2 V51 M937.5,51 H954.7" stroke="#7b8876" stroke-width="0.9"/>
<path d="M946,41 V69.8" stroke="#666" stroke-width="0.8"/><circle cx="946" cy="40.8" r="1" fill="#222"/>
<circle cx="946" cy="73.5" r="3.8" fill="none" stroke="#444" stroke-width="0.8"/><circle cx="946" cy="73.5" r="1.6" fill="none" stroke="#444" stroke-width="0.6"/>
<path d="M946,80 V302" stroke="#888" stroke-width="0.9" stroke-dasharray="6,18,14,10,12,12"/>
<path d="M937.9,302 H954.7 M937.9,302 L946.3,308.7 L954.7,302" stroke="#a9c2a4" stroke-width="1" fill="none"/>
<rect x="936.5" y="308.7" width="19" height="1.8" fill="#222"/>
<path d="M938,310.5 V358 M954.7,310.5 V328" stroke="#888" stroke-width="0.9" fill="none"/>
<path d="M940.3,326 L943,323.4 H952.4 V342.4 H943 L940.3,340 Z" fill="#fdf3e6" stroke="#eca45a" stroke-width="0.9"/>
<path d="M944.5,327.5 H950.5 V339 H944.5 Z" fill="#fff" stroke="#c9a070" stroke-width="0.5"/>
<path d="M947.5,330 V336" stroke="#7a8fb0" stroke-width="0.7" stroke-dasharray="1.2,1"/>
<path d="M893.5,323.6 H932 M893.5,344 H932" stroke="#888" stroke-width="0.9"/>
<path d="M899.5,320 V347.5 M901.5,320 V347.5" stroke="#9a9a9a" stroke-width="0.9"/>
<path d="M909,327 V341 M913,327 V341 M917,327 V341 M921,327 V341 M925,327 V341" stroke="#666" stroke-width="0.7"/>
<path d="M905,334 H935" stroke="#9ab" stroke-width="0.5" stroke-dasharray="2,2"/>
<rect x="931.5" y="322" width="1.6" height="24" fill="#222"/>
<path d="M954.7,328.4 H981.5 Q982.3,328.4 982.3,329.5 V356.4 H954.7" fill="none" stroke="#8a8a8a" stroke-width="0.9"/>
<rect x="957.5" y="329.2" width="19.5" height="11" fill="#f2f2f2"/>
<path d="M957.5,329.8 H977 M957.5,332.2 H977 M957.5,334.3 H977 M957.5,336.6 H977 M957.5,339.6 H977" stroke="#777" stroke-width="0.7"/>
<path d="M957.5,332.2 H977 M957.5,336.6 H977" stroke="#444" stroke-width="0.6"/>
<rect x="955.2" y="331" width="2.6" height="8" fill="#fff" stroke="#555" stroke-width="0.6"/><rect x="954.6" y="333.5" width="1.6" height="2.4" fill="#111"/>
<path d="M977.2,329 V356.2 M979.6,329 V356.2" stroke="#666" stroke-width="0.7"/>
<path d="M977,351 H982.2 M977,353.4 H982.2" stroke="#333" stroke-width="0.8"/>
<path d="M956,349 H977 M956,356 V347.5 H977 M960,349 V356 M966,349 V356 M972,349 V356" fill="none" stroke="#666" stroke-width="0.7"/>
<path d="M966.5,347.5 Q969,344.5 971.5,347.5" fill="none" stroke="#444" stroke-width="0.8"/><path d="M969,345 V356" stroke="#555" stroke-width="0.6"/>
<path d="M962,351.5 H976" stroke="#555" stroke-width="0.6"/>
<path d="M938,348.4 H982" stroke="#7a8fb0" stroke-width="0.6" stroke-dasharray="1.5,1.5"/>
<path d="M946.3,311 V358" stroke="#999" stroke-width="0.6"/>
<rect x="937" y="358.2" width="40" height="2.8" fill="#e8e8e8" stroke="#888" stroke-width="0.7"/>
<path d="M942.2,361 V366 H949.2 V361 M940.7,374.6 V367.5 Q940.7,366 942.2,366 H949.2 Q950.7,366 950.7,367.5 V374.6" fill="#fff" stroke="#777" stroke-width="0.8"/>
<path d="M968.3,361 V366 H975.3 V361 M966.8,374.6 V367.5 Q966.8,366 968.3,366 H975.3 Q976.8,366 976.8,367.5 V374.6" fill="#fff" stroke="#777" stroke-width="0.8"/>
<text x="883" y="284" font-size="6.8" fill="#2e2e2e" stroke="#2e2e2e" stroke-width="0.12" text-anchor="start">玻璃钢风机</text>
<path d="M882,286.7 H920 L938,320" fill="none" stroke="#555" stroke-width="0.8"/>
</svg></body></html>
